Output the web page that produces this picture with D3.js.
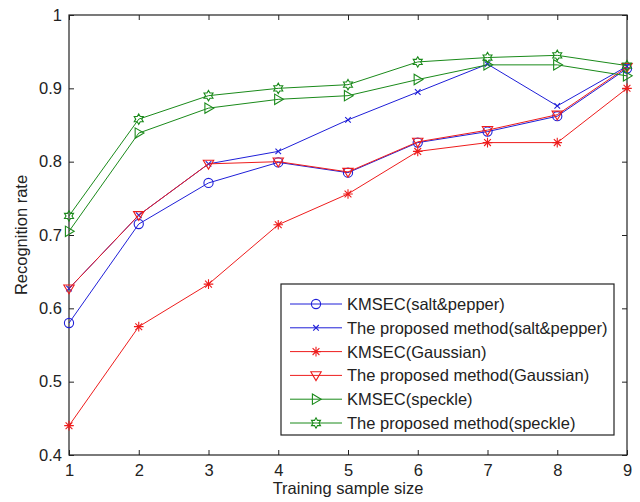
<!DOCTYPE html>
<html>
<head>
<meta charset="utf-8">
<script src="https://cdn.jsdelivr.net/npm/d3@7"></script>
<style>
  body { margin: 0; background: #fff; }
  text { font-family: "Liberation Sans", Arial, sans-serif; fill: #222; }
</style>
</head>
<body>
<div id="mychart"></div>
<script>
const sampleSizes = [1, 2, 3, 4, 5, 6, 7, 8, 9];
const kmsecSaltPepper = [0.580, 0.715, 0.771, 0.799, 0.785, 0.826, 0.841, 0.862, 0.927];
const proposedSaltPepper = [0.627, 0.727, 0.797, 0.814, 0.857, 0.895, 0.933, 0.876, 0.930];
const kmsecGaussian = [0.440, 0.575, 0.633, 0.714, 0.756, 0.814, 0.826, 0.826, 0.900];
const proposedGaussian = [0.627, 0.727, 0.797, 0.800, 0.786, 0.827, 0.843, 0.864, 0.929];
const kmsecSpeckle = [0.705, 0.839, 0.873, 0.885, 0.890, 0.912, 0.932, 0.932, 0.917];
const proposedSpeckle = [0.726, 0.858, 0.890, 0.900, 0.905, 0.936, 0.942, 0.945, 0.931];
const yTicks = [0.4, 0.5, 0.6, 0.7, 0.8, 0.9, 1];
const seriesNames = [
    "KMSEC(salt&pepper)",
    "The proposed method(salt&pepper)",
    "KMSEC(Gaussian)",
    "The proposed method(Gaussian)",
    "KMSEC(speckle)",
    "The proposed method(speckle)"
];

const series = [
    { name: seriesNames[0], values: kmsecSaltPepper, color: "#1f1fd8", marker: "circle" },
    { name: seriesNames[1], values: proposedSaltPepper, color: "#1f1fd8", marker: "x" },
    { name: seriesNames[2], values: kmsecGaussian, color: "#ee1c1c", marker: "asterisk" },
    { name: seriesNames[3], values: proposedGaussian, color: "#ee1c1c", marker: "triDown" },
    { name: seriesNames[4], values: kmsecSpeckle, color: "#1a8a1a", marker: "triRight" },
    { name: seriesNames[5], values: proposedSpeckle, color: "#1a8a1a", marker: "hexagram" }
];

const width = 640;
const height = 502;
const margin = { top: 15, right: 13, bottom: 47, left: 69 };
const plotW = width - margin.left - margin.right;
const plotH = height - margin.top - margin.bottom;

const svg = d3.select("#mychart")
    .append("svg")
    .attr("width", width)
    .attr("height", height);

const g = svg.append("g")
    .attr("transform", `translate(${margin.left},${margin.top})`);

const x = d3.scaleLinear().domain([1, 9]).range([0, plotW]);
const y = d3.scaleLinear().domain([0.4, 1]).range([plotH, 0]);

// marker shapes, MATLAB style
function markerPath(type) {
    const p = d3.path();
    if (type === "circle") {
        p.moveTo(4.6, 0); p.arc(0, 0, 4.6, 0, 2 * Math.PI);
    } else if (type === "x") {
        p.moveTo(-2.8, -2.8); p.lineTo(2.8, 2.8);
        p.moveTo(-2.8, 2.8); p.lineTo(2.8, -2.8);
    } else if (type === "asterisk") {
        p.moveTo(-4.8, 0); p.lineTo(4.8, 0);
        p.moveTo(0, -4.8); p.lineTo(0, 4.8);
        p.moveTo(-3.4, -3.4); p.lineTo(3.4, 3.4);
        p.moveTo(-3.4, 3.4); p.lineTo(3.4, -3.4);
    } else if (type === "triDown") {
        p.moveTo(-5.2, -3.6); p.lineTo(5.2, -3.6); p.lineTo(0, 5.2); p.closePath();
    } else if (type === "triRight") {
        p.moveTo(-3.6, -5.2); p.lineTo(5.2, 0); p.lineTo(-3.6, 5.2); p.closePath();
    } else if (type === "hexagram") {
        const R = 5.2, r = 3.0;
        for (let k = 0; k < 12; k++) {
            const a = -Math.PI / 2 + k * Math.PI / 6;
            const rr = k % 2 === 0 ? R : r;
            if (k === 0) p.moveTo(rr * Math.cos(a), rr * Math.sin(a));
            else p.lineTo(rr * Math.cos(a), rr * Math.sin(a));
        }
        p.closePath();
    }
    return p.toString();
}

// axes box
g.append("rect")
    .attr("width", plotW)
    .attr("height", plotH)
    .attr("fill", "none")
    .attr("stroke", "#222")
    .attr("stroke-width", 1.2);

const xAxis = d3.axisBottom(x).tickValues(sampleSizes).tickFormat(d3.format("d")).tickSizeInner(-5).tickSizeOuter(0).tickPadding(9);
const yAxis = d3.axisLeft(y).tickValues(yTicks).tickFormat(d => d === 1 ? "1" : d3.format(".1f")(d)).tickSizeInner(-5).tickSizeOuter(0).tickPadding(7);

const gx = g.append("g").attr("transform", `translate(0,${plotH})`).call(xAxis);
const gy = g.append("g").call(yAxis);
g.append("g").call(d3.axisTop(x).tickValues(sampleSizes).tickFormat("").tickSizeInner(-5).tickSizeOuter(0));
g.append("g").attr("transform", `translate(${plotW},0)`).call(d3.axisRight(y).tickValues(yTicks).tickFormat("").tickSizeInner(-5).tickSizeOuter(0));

g.selectAll(".domain").remove();
g.selectAll(".tick line").attr("stroke", "#222");
gx.selectAll("text").attr("font-size", 16.5).attr("dy", "0.71em");
gy.selectAll("text").attr("font-size", 16.5);

// lines and markers
const line = d3.line()
    .x((d, i) => x(sampleSizes[i]))
    .y(d => y(d));

series.forEach(s => {
    g.append("path")
        .datum(s.values)
        .attr("fill", "none")
        .attr("stroke", s.color)
        .attr("stroke-width", 1)
        .attr("d", line);
    g.selectAll(null)
        .data(s.values)
        .enter()
        .append("path")
        .attr("transform", (d, i) => `translate(${x(sampleSizes[i])},${y(d)})`)
        .attr("d", markerPath(s.marker))
        .attr("fill", "none")
        .attr("stroke", s.color)
        .attr("stroke-width", 1.1);
});

// axis titles
svg.append("text")
    .attr("x", margin.left + plotW / 2)
    .attr("y", 494)
    .attr("text-anchor", "middle")
    .attr("font-size", 16.5)
    .text("Training sample size");

svg.append("text")
    .attr("transform", `translate(27,${margin.top + plotH / 2}) rotate(-90)`)
    .attr("text-anchor", "middle")
    .attr("font-size", 16.5)
    .text("Recognition rate");

// legend
const legend = svg.append("g").attr("transform", "translate(281,284)");
legend.append("rect")
    .attr("width", 333)
    .attr("height", 151)
    .attr("fill", "#fff")
    .attr("stroke", "#222")
    .attr("stroke-width", 1.2);

series.forEach((s, i) => {
    const row = legend.append("g").attr("transform", `translate(0,${20 + i * 23.8})`);
    row.append("line")
        .attr("x1", 9).attr("x2", 61)
        .attr("stroke", s.color).attr("stroke-width", 1);
    row.append("path")
        .attr("transform", "translate(35,0)")
        .attr("d", markerPath(s.marker))
        .attr("fill", "none")
        .attr("stroke", s.color)
        .attr("stroke-width", 1.1);
    row.append("text")
        .attr("x", 66)
        .attr("dy", "0.36em")
        .attr("font-size", 16.5)
        .text(s.name);
});
</script>
</body>
</html>
